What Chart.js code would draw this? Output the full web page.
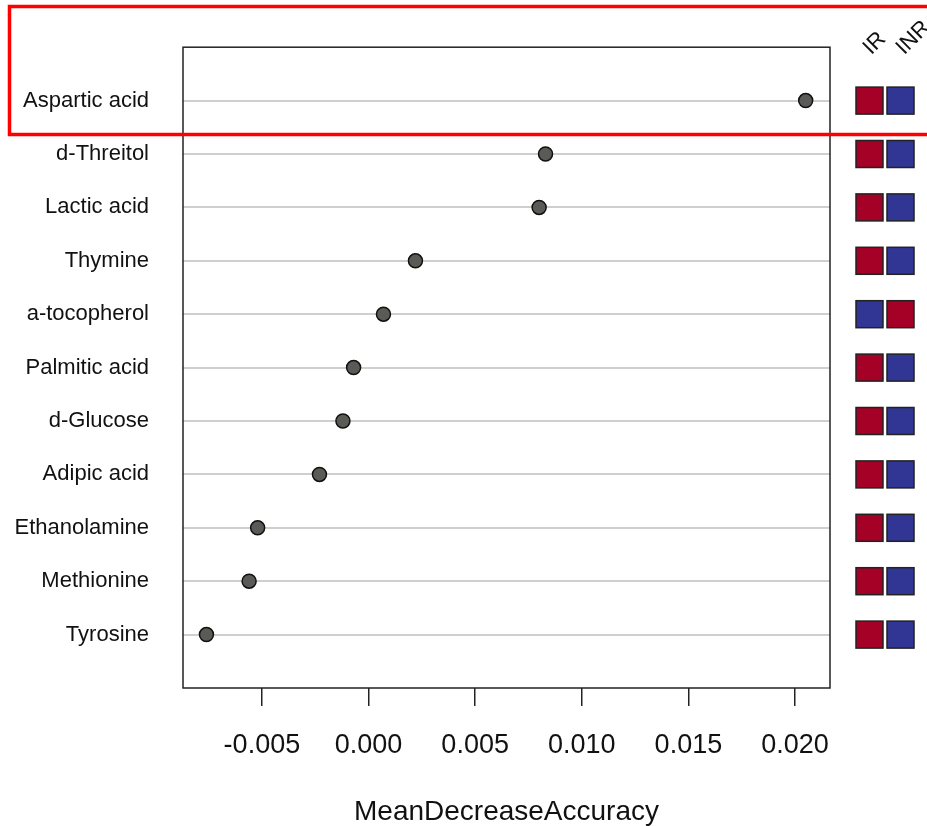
<!DOCTYPE html>
<html lang="en">
<head>
  <meta charset="UTF-8">
  <title>MeanDecreaseAccuracy</title>
  <script src="https://cdn.jsdelivr.net/npm/chart.js"></script>
  <style>
    html, body { margin: 0; padding: 0; background: #fff; }
    #wrap { width: 927px; height: 826px; }
  </style>
</head>
<body>
  <div id="wrap">
    <canvas id="mdaChart" width="927" height="826"></canvas>
  </div>
  <script>
    // Metabolites, top to bottom
    const metabolites = ['Aspartic acid', 'd-Threitol', 'Lactic acid', 'Thymine', 'a-tocopherol',
      'Palmitic acid', 'd-Glucose', 'Adipic acid', 'Ethanolamine', 'Methionine', 'Tyrosine'];
    // Mean decrease accuracy per metabolite
    const meanDecrease = [0.0205, 0.0083, 0.0080, 0.0022, 0.0007,
      -0.0007, -0.0012, -0.0023, -0.0052, -0.0056, -0.0076];
    // Is the metabolite higher in IR (true) or INR (false)
    const higherInIR = [true, true, true, true, false, true, true, true, true, true, true];
    const groups = ['IR', 'INR'];
    const xTicks = [-0.005, 0.000, 0.005, 0.010, 0.015, 0.020];

    const FONT = '"Liberation Sans", Arial, sans-serif';
    const HIGH = '#a50026';
    const LOW = '#313695';

    // Plot box, group heat map and highlight box
    const extras = {
      id: 'extras',
      afterDraw(chart) {
        const ctx = chart.ctx;
        const area = chart.chartArea;
        const yScale = chart.scales.y;
        ctx.save();

        // box round the plot
        ctx.strokeStyle = '#222';
        ctx.lineWidth = 1.5;
        ctx.strokeRect(area.left, area.top, area.right - area.left, area.bottom - area.top);

        // heat map cells
        const size = 27;
        const gap = 4;
        const x0 = area.right + 26;
        metabolites.forEach((name, i) => {
          const cy = yScale.getPixelForValue(i + 1);
          groups.forEach((g, j) => {
            const high = j === 0 ? higherInIR[i] : !higherInIR[i];
            ctx.fillStyle = high ? HIGH : LOW;
            const x = x0 + j * (size + gap);
            ctx.fillRect(x, cy - size / 2, size, size);
            ctx.strokeStyle = '#222';
            ctx.lineWidth = 1.5;
            ctx.strokeRect(x, cy - size / 2, size, size);
          });
        });

        // group labels, rotated
        ctx.fillStyle = '#111';
        ctx.font = '22px ' + FONT;
        ctx.textAlign = 'left';
        ctx.textBaseline = 'middle';
        groups.forEach((g, j) => {
          const x = x0 + j * (size + gap + 2) + 11;
          ctx.save();
          ctx.translate(x, area.top + 4);
          ctx.rotate(-Math.PI / 4);
          ctx.fillText(g, 0, 0);
          ctx.restore();
        });

        // red highlight box
        ctx.strokeStyle = '#ff0000';
        ctx.lineWidth = 3.5;
        ctx.strokeRect(9.5, 6.5, 940, 128);
        ctx.restore();
      }
    };

    new Chart(document.getElementById('mdaChart'), {
      type: 'scatter',
      data: {
        datasets: [{
          data: meanDecrease.map((v, i) => ({ x: v, y: i + 1 })),
          pointRadius: 7,
          pointHoverRadius: 7,
          backgroundColor: '#5a5a57',
          borderColor: '#111',
          borderWidth: 1.5
        }]
      },
      options: {
        responsive: false,
        animation: false,
        layout: { padding: { left: 0, right: 97, top: 45, bottom: 0 } },
        plugins: {
          legend: { display: false },
          tooltip: { enabled: false }
        },
        scales: {
          x: {
            type: 'linear',
            min: -0.0087,
            max: 0.02164,
            afterBuildTicks: axis => { axis.ticks = xTicks.map(v => ({ value: v })); },
            afterFit: axis => { axis.height = 138; },
            border: { display: false },
            grid: {
              drawOnChartArea: false,
              drawTicks: true,
              tickLength: 18,
              color: '#222',
              lineWidth: 1.5
            },
            ticks: {
              padding: 23,
              color: '#111',
              font: { family: FONT, size: 27 },
              maxRotation: 0,
              callback: v => v.toFixed(3)
            },
            title: {
              display: true,
              text: 'MeanDecreaseAccuracy',
              color: '#111',
              font: { family: FONT, size: 28 },
              padding: { top: 0, bottom: -3 }
            }
          },
          y: {
            type: 'linear',
            min: 0,
            max: metabolites.length + 1,
            reverse: true,
            afterBuildTicks: axis => { axis.ticks = metabolites.map((m, i) => ({ value: i + 1 })); },
            afterFit: axis => { axis.width = 183; },
            border: { display: false },
            grid: {
              drawTicks: false,
              color: '#cfcfcf',
              lineWidth: 2
            },
            ticks: {
              padding: 34,
              color: '#111',
              font: { family: FONT, size: 22 },
              callback: v => metabolites[v - 1]
            }
          }
        }
      },
      plugins: [extras]
    });
  </script>
</body>
</html>
